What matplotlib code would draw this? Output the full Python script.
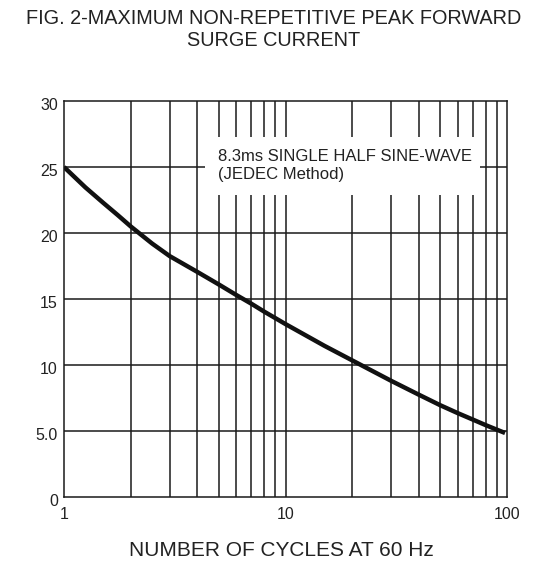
import matplotlib
matplotlib.use("Agg")
import matplotlib.pyplot as plt
import matplotlib.transforms as mtransforms
from matplotlib.ticker import FixedLocator, NullLocator, FixedFormatter

plt.rcParams['font.family'] = ['Liberation Sans', 'DejaVu Sans']

cycles = [1, 1.25, 1.5, 1.75, 2, 2.5, 3, 4, 5, 6, 7, 8, 9, 10, 15, 20, 30, 40,
          50, 60, 70, 80, 90, 98]
current = [25.0, 23.45, 22.3, 21.35, 20.5, 19.2, 18.25, 17.05, 16.1, 15.3, 14.65,
           14.05, 13.55, 13.1, 11.45, 10.35, 8.8, 7.75, 6.95, 6.35, 5.87, 5.45, 5.1, 4.85]

y_ticks = [0, 5, 10, 15, 20, 25, 30]
y_labels = ["0", "5.0", "10", "15", "20", "25", "30"]
x_ticks = [1, 10, 100]
x_labels = ["1", "10", "100"]
x_grid = [2, 3, 4, 5, 6, 7, 8, 9, 10, 20, 30, 40, 50, 60, 70, 80, 90]

title_lines = ["FIG. 2-MAXIMUM NON-REPETITIVE PEAK FORWARD", "SURGE CURRENT"]
xlabel = "NUMBER OF CYCLES AT 60 Hz"
note = "8.3ms SINGLE HALF SINE-WAVE\n(JEDEC Method)"

W, H = 547, 566
fig = plt.figure(figsize=(W / 100, H / 100), dpi=100)
ax = fig.add_axes([64 / W, 1 - 497 / H, 443 / W, 396 / H])
ax.set_xscale('log')
ax.set_xlim(1, 100)
ax.set_ylim(0, 30)

ink = '#1a1a1a'
for xv in x_grid:
    ax.axvline(xv, color=ink, lw=1.1, zorder=1)
for yv in y_ticks[1:-1]:
    ax.axhline(yv, color=ink, lw=1.1, zorder=1)

ax.plot(cycles, current, color='#111111', lw=3.2, zorder=4,
        solid_capstyle='butt', solid_joinstyle='round')

ax.xaxis.set_major_locator(FixedLocator(x_ticks))
ax.xaxis.set_major_formatter(FixedFormatter(x_labels))
ax.xaxis.set_minor_locator(NullLocator())
ax.yaxis.set_major_locator(FixedLocator(y_ticks))
ax.yaxis.set_major_formatter(FixedFormatter(y_labels))
ax.tick_params(axis='both', length=0, labelsize=11.5, colors='#222222')
ax.tick_params(axis='y', pad=4.5)
ax.tick_params(axis='x', pad=7)

# y labels sit slightly below their grid lines in the reference
off = mtransforms.ScaledTranslation(0, -3 / 100, fig.dpi_scale_trans)
for lab in ax.get_yticklabels():
    lab.set_transform(lab.get_transform() + off)

for s in ax.spines.values():
    s.set_color(ink)
    s.set_linewidth(1.1)
    s.set_zorder(5)

# white box behind the note
ax.fill_between([4.33, 75.5], 22.88, 27.27, color='white', zorder=2, lw=0)
ax.text(4.95, 25.1, note, fontsize=12, color='#222222', va='center', ha='left',
        zorder=3)

fig.text(0.5, 1 - 18 / H, title_lines[0], ha='center', va='center', fontsize=14.3,
         color='#222222')
fig.text(0.5, 1 - 40 / H, title_lines[1], ha='center', va='center', fontsize=14.3,
         color='#222222')
fig.text(281 / W, 1 - 550 / H, xlabel, ha='center', va='center', fontsize=15,
         color='#222222')

fig.savefig("out.png", dpi=100)
